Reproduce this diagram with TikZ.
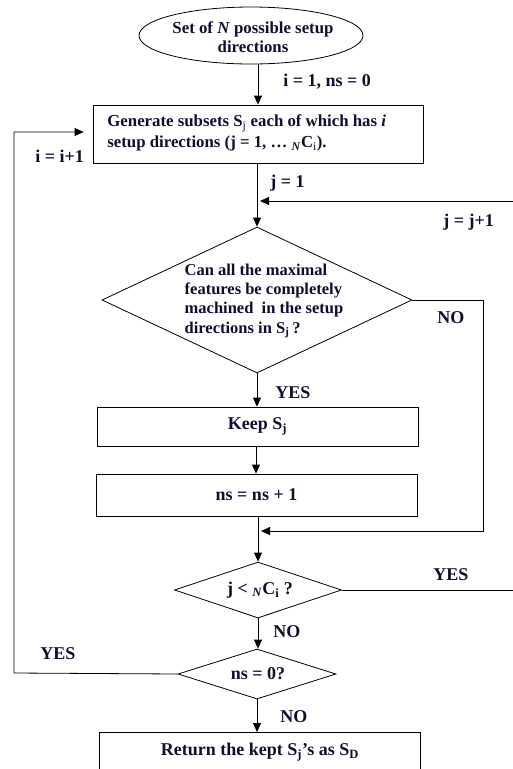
\documentclass[tikz,border=0pt]{standalone}
\usepackage{fontspec}
\setmainfont{Liberation Serif}
\usetikzlibrary{shapes.geometric,arrows.meta,calc}
\definecolor{txtc}{RGB}{15,15,45}
\newcommand{\sbs}[1]{\textsubscript{#1}}
\begin{document}
\begin{tikzpicture}[x=1pt,y=-1pt,
  line width=0.8pt,
  every node/.style={font=\bfseries\fontsize{18}{21}\selectfont, text=txtc},
  lbl/.style={anchor=west, inner sep=0pt},
  procbox/.style={draw, rectangle, inner sep=0pt},
  decide/.style={draw, diamond, inner sep=0pt},
  arr/.style={-{Triangle[length=9pt,width=8pt]}}]
\useasboundingbox (0,0) rectangle (513,769);
\clip (0,0) rectangle (513,769);

% nodes
\node[draw, ellipse, minimum width=224pt, minimum height=57pt, inner sep=0pt] (e) at (251,35.5) {};
\node[align=center, inner sep=0pt, font=\bfseries\fontsize{16.8}{19}\selectfont] (et) at (253,37) {Set of \textit{N} possible setup\\directions};

\node[procbox, minimum width=330pt, minimum height=58pt] (b1) at (258,134) {};
\node[anchor=west, align=left, inner sep=0pt, font=\bfseries\fontsize{16.8}{21}\selectfont] (b1t) at (107,133)
  {Generate subsets S\sbs{\mdseries j} each of which has \textit{i}\\setup directions (j = 1, \dots\ \sbs{\textit{N}}C\sbs{\mdseries i}).};

\node[decide, minimum width=310pt, minimum height=146pt] (d1) at (257,300) {};
\node[anchor=center, align=left, inner sep=0pt, font=\bfseries\fontsize{16.5}{19.3}\selectfont] (d1t) at (264,301)
  {Can all the maximal\\features be completely\\machined\ \ in the setup\\directions in S\sbs{j}\,?};

\node[procbox, minimum width=321pt, minimum height=39pt] (keep) at (257.5,426.5) {Keep S\sbs{j}};
\node[procbox, minimum width=321pt, minimum height=42pt] (ns) at (256.5,495) {ns = ns + 1};

\node[decide, minimum width=167pt, minimum height=56pt] (d2) at (258,590) {};
\node[inner sep=0pt] (d2t) at (260,590) {j < \sbs{\textit{N}}C\sbs{i} ?};

\node[decide, minimum width=158pt, minimum height=50pt] (d3) at (257,674) {};
\node[inner sep=0pt] (d3t) at (258,674) {ns = 0?};

\node[procbox, minimum width=321pt, minimum height=50pt, anchor=north] (ret) at (259.5,732) {};
\node[inner sep=0pt] (rett) at (260,752) {Return the kept S\sbs{j}’s as S\sbs{D}};

% helper coordinates
\coordinate (jr) at (513,201);
\coordinate (nor) at (483,300);
\coordinate (nob) at (483,531);
\coordinate (yr) at (513,590);
\coordinate (ll) at (14,673);
\coordinate (lt) at (14,132);

% connectors
\draw[arr] ([xshift=7pt]e.south) -- (b1.north);
\node[lbl] at (283,82) {i = 1, ns = 0};

\draw[arr] (b1.south -| d1.north) -- (d1.north);
\node[lbl] at (270,183) {j = 1};

\draw[arr, shorten >=3pt] (jr) -- (jr -| d1.north);
\node[lbl] at (443,222) {j = j+1};

\draw[arr] (d1.south) -- (keep.north -| d1.south);
\node[lbl] at (275,393) {YES};

\draw[arr, shorten >=3pt] (d1.east) -- (nor) -- (nob) -- (nob -| d2.north);
\node[lbl] at (437,318) {NO};

\draw[arr] (keep.south -| 256,0) -- (ns.north -| 256,0);

\draw[arr] (ns.south -| d2.north) -- (d2.north);

\draw (d2.east) -- (yr);
\node[lbl] at (433,575) {YES};

\draw[arr] (d2.south) -- (d2.south |- d3.north);
\node[lbl] at (273,632) {NO};

\draw[arr, shorten >=9pt] (d3.west) -- (ll) -- (lt) -- (lt -| b1.west);
\node[lbl] at (35,156) {i = i+1};
\node[lbl] at (40,654) {YES};

\draw[arr] (d3.south) -- (d3.south |- ret.north);
\node[lbl] at (280,717) {NO};
\end{tikzpicture}
\end{document}
